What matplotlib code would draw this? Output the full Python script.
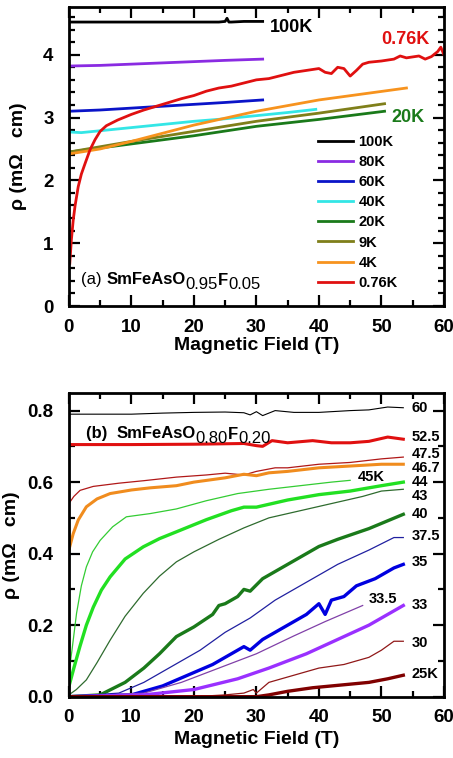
import matplotlib
matplotlib.use("Agg")
import matplotlib.pyplot as plt
from matplotlib.ticker import MultipleLocator, FormatStrFormatter

plt.rcParams['font.family'] = ['Liberation Sans', 'DejaVu Sans']
plt.rcParams['font.weight'] = 'bold'

# ---- panel (a): SmFeAsO0.95F0.05 ----
a_labels = ["100K", "80K", "60K", "40K", "20K", "9K", "4K", "0.76K"]
a_colors = ["black", "#8a2be2", "#0a14c8", "#33e6e6", "#1a7a1a", "#7f7f1a", "#f7931e", "#e01010"]

a_100_x = [0, 5, 10, 15, 20, 24, 25, 25.3, 25.6, 26, 28, 31]
a_100_y = [4.52, 4.52, 4.52, 4.52, 4.52, 4.52, 4.53, 4.58, 4.52, 4.52, 4.53, 4.53]
a_80_x = [0, 5, 10, 15, 20, 25, 31]
a_80_y = [3.82, 3.83, 3.85, 3.87, 3.89, 3.91, 3.93]
a_60_x = [0, 5, 10, 15, 20, 25, 31]
a_60_y = [3.10, 3.12, 3.15, 3.18, 3.21, 3.24, 3.28]
a_40_x = [0, 2, 4, 8, 12, 16, 20, 25, 30, 35, 39.5]
a_40_y = [2.77, 2.76, 2.78, 2.82, 2.86, 2.90, 2.94, 2.98, 3.03, 3.08, 3.13]
a_20_x = [0, 10, 20, 30, 40, 50.5]
a_20_y = [2.45, 2.58, 2.71, 2.86, 2.97, 3.10]
a_9_x = [0, 10, 20, 30, 40, 50.5]
a_9_y = [2.45, 2.62, 2.78, 2.94, 3.07, 3.22]
a_4_x = [0, 5, 10, 20, 30, 40, 54]
a_4_y = [2.42, 2.50, 2.62, 2.88, 3.10, 3.28, 3.47]
a_076_x = [0.15, 0.4, 0.7, 1.0, 1.5, 2.0, 2.6, 3.4, 4.2, 5, 6, 7.8, 10, 12, 14, 16, 18, 20,
           22, 24, 26, 28, 30, 32, 34, 36, 38, 40, 41, 42, 43, 44, 45, 46, 47, 48, 50, 52,
           53, 54, 56, 57, 58, 59, 59.5, 60]
a_076_y = [0.68, 1.05, 1.37, 1.60, 1.90, 2.10, 2.27, 2.49, 2.65, 2.78, 2.87, 2.96, 3.05,
           3.12, 3.18, 3.24, 3.30, 3.35, 3.42, 3.47, 3.50, 3.55, 3.60, 3.62, 3.67, 3.72,
           3.75, 3.78, 3.72, 3.70, 3.80, 3.78, 3.66, 3.75, 3.85, 3.88, 3.90, 3.93, 3.98,
           3.95, 3.98, 3.93, 3.97, 4.05, 4.12, 4.00]

a_series = [(a_100_x, a_100_y), (a_80_x, a_80_y), (a_60_x, a_60_y), (a_40_x, a_40_y),
            (a_20_x, a_20_y), (a_9_x, a_9_y), (a_4_x, a_4_y), (a_076_x, a_076_y)]

# ---- panel (b): SmFeAsO0.80F0.20 ----
b_labels = ["60", "52.5", "47.5", "46.7", "45K", "44", "43", "40", "37.5", "35", "33.5", "33", "30", "25K"]
b_colors = ["black", "#e01010", "#b01818", "#f08c1e", "#33cc33", "#22e022", "#2e6b2e",
            "#1a7a1a", "#2020a0", "#0000e0", "#8040a8", "#9a30ff", "#901818", "#800000"]
b_widths = [0.8, 2.2, 0.9, 2.2, 0.9, 2.4, 0.9, 2.4, 0.9, 2.4, 0.9, 2.4, 0.9, 2.4]

b_60_x = [0, 10, 15, 20, 25, 28, 29, 30, 31, 32, 33, 36, 40, 45, 48, 51, 53.5]
b_60_y = [0.790, 0.790, 0.793, 0.795, 0.796, 0.794, 0.788, 0.797, 0.786, 0.793, 0.800, 0.795, 0.795, 0.800, 0.802, 0.810, 0.808]
b_525_x = [0, 10, 20, 28, 30, 31, 32.5, 35, 39, 42, 45, 48, 51, 53.5]
b_525_y = [0.705, 0.705, 0.706, 0.708, 0.702, 0.700, 0.716, 0.710, 0.716, 0.710, 0.710, 0.714, 0.726, 0.720]
b_475_x = [0, 0.8, 1.8, 3.9, 8, 12, 17.2, 22, 25, 28, 30, 33, 35, 40, 45, 50, 53.5]
b_475_y = [0.540, 0.560, 0.577, 0.588, 0.597, 0.604, 0.614, 0.620, 0.625, 0.620, 0.630, 0.640, 0.640, 0.650, 0.655, 0.665, 0.670]
b_467_x = [0, 0.7, 1.5, 2.8, 4.5, 6.6, 10, 13, 17.2, 20, 25, 28, 30, 32, 35, 40, 45, 50, 53.5]
b_467_y = [0.410, 0.456, 0.494, 0.531, 0.553, 0.568, 0.578, 0.584, 0.590, 0.600, 0.612, 0.622, 0.618, 0.626, 0.630, 0.640, 0.645, 0.650, 0.650]
b_45_x = [0, 0.5, 1.23, 2.0, 2.8, 3.8, 5, 7, 9.2, 13, 17.2, 22, 27, 32, 37, 42, 45]
b_45_y = [0.065, 0.130, 0.233, 0.310, 0.363, 0.405, 0.437, 0.475, 0.503, 0.512, 0.525, 0.548, 0.568, 0.580, 0.590, 0.600, 0.605]
b_44_x = [0, 0.8, 1.76, 2.8, 3.9, 5.2, 6.6, 9, 11.9, 14.5, 17.2, 22, 26, 28, 30, 35, 40, 45, 50, 53.5]
b_44_y = [0.028, 0.080, 0.140, 0.200, 0.250, 0.298, 0.335, 0.385, 0.419, 0.442, 0.461, 0.495, 0.520, 0.530, 0.530, 0.550, 0.565, 0.575, 0.590, 0.600]
b_43_x = [0, 1.2, 2.8, 4.5, 6.6, 9, 11.9, 14.5, 17.2, 20, 24, 28, 32, 37, 42, 47, 50, 53.5]
b_43_y = [0.005, 0.020, 0.047, 0.095, 0.158, 0.225, 0.289, 0.337, 0.377, 0.405, 0.440, 0.472, 0.500, 0.520, 0.540, 0.560, 0.575, 0.580]
b_40_x = [0, 5, 9, 12, 14.5, 17.2, 20, 23, 24, 25, 27, 28, 29, 31, 34, 38, 40, 43, 48, 53.5]
b_40_y = [0.000, 0.005, 0.040, 0.080, 0.120, 0.168, 0.195, 0.230, 0.255, 0.260, 0.280, 0.300, 0.295, 0.330, 0.360, 0.400, 0.420, 0.440, 0.470, 0.510]
b_375_x = [0, 8, 12, 16, 21, 25, 29, 33, 38, 43, 48, 52, 53.5]
b_375_y = [0.000, 0.010, 0.040, 0.080, 0.130, 0.180, 0.220, 0.270, 0.320, 0.370, 0.410, 0.445, 0.445]
b_35_x = [0, 10, 15, 19, 23, 26, 28, 29, 31, 34, 38, 40, 41, 42, 44, 46, 49, 52, 53.5]
b_35_y = [0.000, 0.005, 0.030, 0.060, 0.090, 0.120, 0.140, 0.130, 0.160, 0.190, 0.230, 0.260, 0.230, 0.270, 0.280, 0.310, 0.330, 0.360, 0.370]
b_335_x = [0, 12, 18, 24, 30, 36, 41, 47]
b_335_y = [0.000, 0.010, 0.040, 0.080, 0.120, 0.170, 0.210, 0.255]
b_33_x = [0, 12, 20, 27, 32, 38, 43, 48, 51, 53.5]
b_33_y = [0.000, 0.005, 0.020, 0.050, 0.080, 0.120, 0.160, 0.200, 0.230, 0.255]
b_30_x = [0, 20, 25, 28, 29.5, 30, 32, 36, 40, 44, 48, 50, 52, 53.5]
b_30_y = [0.000, 0.000, 0.005, 0.010, 0.020, 0.010, 0.040, 0.060, 0.080, 0.090, 0.110, 0.130, 0.155, 0.155]
b_25_x = [0, 30, 32, 35, 39, 42, 45, 48, 51, 53.5]
b_25_y = [0.000, 0.000, 0.005, 0.015, 0.025, 0.030, 0.035, 0.040, 0.050, 0.060]

b_series = [(b_60_x, b_60_y), (b_525_x, b_525_y), (b_475_x, b_475_y), (b_467_x, b_467_y),
            (b_45_x, b_45_y), (b_44_x, b_44_y), (b_43_x, b_43_y), (b_40_x, b_40_y),
            (b_375_x, b_375_y), (b_35_x, b_35_y), (b_335_x, b_335_y), (b_33_x, b_33_y),
            (b_30_x, b_30_y), (b_25_x, b_25_y)]
# label anchor (x, y) in data units for each curve of panel (b)
b_label_x = [54.8, 54.8, 54.8, 54.8, 48.4, 54.8, 54.8, 54.8, 54.8, 54.8, 50.3, 54.8, 54.8, 54.8]
b_label_y = [0.806, 0.726, 0.680, 0.640, 0.613, 0.600, 0.561, 0.510, 0.450, 0.377, 0.272, 0.255, 0.151, 0.063]
b_label_ha = ["left"] * 4 + ["center"] + ["left"] * 5 + ["center"] + ["left"] * 3

fig = plt.figure(figsize=(4.53, 7.58), dpi=100)
ax1 = fig.add_axes([0.152, 0.5963, 0.828, 0.3945])
ax2 = fig.add_axes([0.152, 0.0809, 0.828, 0.401])


def style_axes(ax, ymajor, yminor, ylim, ylab_x, xlab_y):
    ax.set_xlim(0, 60)
    ax.set_ylim(*ylim)
    ax.xaxis.set_major_locator(MultipleLocator(10))
    ax.xaxis.set_minor_locator(MultipleLocator(5))
    ax.yaxis.set_major_locator(MultipleLocator(ymajor))
    ax.yaxis.set_minor_locator(MultipleLocator(yminor))
    ax.tick_params(which='both', direction='in', top=True, right=True, width=1.6)
    ax.tick_params(which='major', length=8, labelsize=13.5)
    ax.tick_params(axis='x', which='major', pad=9)
    ax.tick_params(axis='y', which='major', pad=11)
    ax.tick_params(which='minor', length=4)
    for s in ax.spines.values():
        s.set_linewidth(2)
    ax.set_xlabel("Magnetic Field (T)", fontsize=14, fontweight='bold')
    ax.set_ylabel("ρ (mΩ   cm)", fontsize=14, fontweight='bold')
    ax.yaxis.set_label_coords(ylab_x, 0.5)
    ax.xaxis.set_label_coords(0.5, xlab_y)


def formula(ax, x, y, parts, size=12):
    # parts: (text, weight, drop) chained left to right; drop in points
    t = ax.text(x, y, parts[0][0], fontsize=size, fontweight=parts[0][1], va='bottom')
    prev_drop = parts[0][2]
    for txt, wt, drop in parts[1:]:
        t = ax.annotate(txt, xy=(1, 0), xycoords=t, xytext=(0, prev_drop - drop),
                        textcoords='offset points', fontsize=size, fontweight=wt, va='bottom')
        prev_drop = drop


for (x, y), c, lab in zip(a_series, a_colors, a_labels):
    ax1.plot(x, y, color=c, lw=2.0, label=lab)
style_axes(ax1, 1, 0.2, (0, 4.76), -0.112, -0.105)
ax1.legend(loc='upper left', bbox_to_anchor=(0.665, 0.572), frameon=False, fontsize=10.5,
           handlelength=2.4, handletextpad=0.35, labelspacing=0.42, borderpad=0, borderaxespad=0)
ax1.text(32.2, 4.43, "100K", fontsize=13, fontweight='bold', va='center')
ax1.text(50.0, 4.24, "0.76K", fontsize=13, fontweight='bold', color="#e01010", va='center')
ax1.text(51.6, 3.00, "20K", fontsize=13, fontweight='bold', color="#1a7a1a", va='center')
formula(ax1, 2.0, 0.30, [("(a) ", 'normal', 0), ("SmFeAsO", 'bold', 0), ("0.95", 'normal', 3.5),
                         ("F", 'bold', 0.5), ("0.05", 'normal', 3.5)])

for (x, y), c, w in zip(b_series, b_colors, b_widths):
    ax2.plot(x, y, color=c, lw=w)
for lx, ly, lab, ha in zip(b_label_x, b_label_y, b_labels, b_label_ha):
    ax2.text(lx, ly, lab, fontsize=10.5, fontweight='bold', va='center', ha=ha)
style_axes(ax2, 0.2, 0.1, (0, 0.85), -0.13, -0.112)
ax2.yaxis.set_major_formatter(FormatStrFormatter('%.1f'))
formula(ax2, 2.7, 0.715, [("(b)  ", 'bold', 0), ("SmFeAsO", 'bold', 0), ("0.80", 'normal', 3.5),
                          ("F", 'bold', 0.5), ("0.20", 'normal', 3.5)])

fig.savefig("out.png", dpi=100)
